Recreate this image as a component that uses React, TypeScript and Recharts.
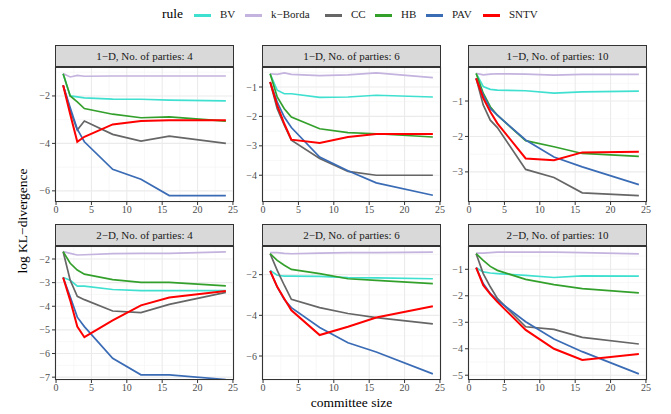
import React from 'react';
import { LineChart, Line, XAxis, YAxis, CartesianGrid } from 'recharts';

const committeeSizes = [1, 2, 3, 4, 8, 12, 16, 24];
const rules = ['BV', 'k-Borda', 'CC', 'HB', 'PAV', 'SNTV'];
const ruleLabels = ['BV', 'k−Borda', 'CC', 'HB', 'PAV', 'SNTV'];
const ruleColors = ['#40E0D0', '#C3B3DE', '#666666', '#34A02C', '#3A6BB5', '#FF0000'];

// log KL-divergence, one array per rule, indexed like committeeSizes
const oneD4 = {
  BV: [-1.06, -2.0, -2.04, -2.08, -2.13, -2.14, -2.18, -2.21],
  'k-Borda': [-1.06, -1.2, -1.13, -1.17, -1.16, -1.16, -1.16, -1.16],
  CC: [-1.55, -2.6, -3.44, -3.06, -3.62, -3.9, -3.69, -4.0],
  HB: [-1.06, -2.0, -2.25, -2.53, -2.77, -2.92, -2.88, -3.06],
  PAV: [-1.55, -2.5, -3.4, -3.93, -5.09, -5.51, -6.2, -6.2],
  SNTV: [-1.55, -2.77, -3.93, -3.72, -3.2, -3.06, -3.02, -3.02],
};
const oneD6 = {
  BV: [-0.55, -1.11, -1.23, -1.23, -1.35, -1.34, -1.28, -1.34],
  'k-Borda': [-0.55, -0.57, -0.52, -0.57, -0.61, -0.59, -0.52, -0.68],
  CC: [-0.83, -1.74, -2.3, -2.81, -3.43, -3.87, -4.0, -4.0],
  HB: [-0.55, -1.34, -1.74, -2.02, -2.42, -2.55, -2.59, -2.7],
  PAV: [-0.83, -1.51, -2.02, -2.38, -3.38, -3.85, -4.26, -4.68],
  SNTV: [-0.83, -1.62, -2.25, -2.79, -2.9, -2.7, -2.6, -2.6],
};
const oneD10 = {
  BV: [-0.22, -0.59, -0.67, -0.69, -0.71, -0.78, -0.74, -0.72],
  'k-Borda': [-0.22, -0.26, -0.24, -0.23, -0.24, -0.27, -0.25, -0.25],
  CC: [-0.36, -1.11, -1.54, -1.75, -2.93, -3.16, -3.59, -3.67],
  HB: [-0.22, -0.78, -1.16, -1.4, -2.12, -2.29, -2.48, -2.56],
  PAV: [-0.36, -0.83, -1.21, -1.4, -2.1, -2.58, -2.86, -3.36],
  SNTV: [-0.36, -0.92, -1.3, -1.63, -2.62, -2.67, -2.45, -2.43],
};
const twoD4 = {
  BV: [-2.78, -2.9, -3.15, -3.15, -3.29, -3.34, -3.34, -3.34],
  'k-Borda': [-1.69, -1.76, -1.83, -1.82, -1.77, -1.76, -1.76, -1.7],
  CC: [-1.69, -2.9, -3.58, -3.72, -4.2, -4.27, -3.92, -3.41],
  HB: [-1.69, -2.18, -2.47, -2.64, -2.87, -2.99, -2.99, -3.14],
  PAV: [-2.78, -3.6, -4.46, -4.86, -6.2, -6.9, -6.9, -7.1],
  SNTV: [-2.78, -3.75, -4.86, -5.31, -4.6, -3.96, -3.63, -3.35],
};
const twoD6 = {
  BV: [-1.79, -2.03, -2.07, -2.07, -2.08, -2.15, -2.16, -2.2],
  'k-Borda': [-0.92, -0.92, -0.95, -0.97, -0.94, -0.92, -0.92, -0.89],
  CC: [-0.97, -1.79, -2.52, -3.21, -3.62, -3.91, -4.11, -4.42],
  HB: [-0.97, -1.3, -1.54, -1.74, -1.95, -2.2, -2.28, -2.44],
  PAV: [-1.82, -2.6, -3.22, -3.62, -4.6, -5.35, -5.8, -6.88],
  SNTV: [-1.82, -2.6, -3.18, -3.75, -4.97, -4.56, -4.11, -3.55],
};
const twoD10 = {
  BV: [-0.94, -1.1, -1.14, -1.16, -1.23, -1.31, -1.25, -1.26],
  'k-Borda': [-0.39, -0.39, -0.37, -0.35, -0.35, -0.35, -0.37, -0.42],
  CC: [-0.41, -1.16, -1.66, -2.1, -3.17, -3.27, -3.57, -3.82],
  HB: [-0.41, -0.66, -0.89, -1.04, -1.38, -1.58, -1.73, -1.89],
  PAV: [-0.94, -1.54, -1.91, -2.17, -2.98, -3.63, -4.11, -4.95],
  SNTV: [-0.94, -1.6, -1.94, -2.23, -3.29, -4.0, -4.42, -4.2],
};

const xDomain = [-0.15, 25.15];
const xTicks = [0, 5, 10, 15, 20, 25];
const xMinor = [2.5, 7.5, 12.5, 17.5, 22.5];

const panels = [
  { title: '1−D, No. of parties: 4', series: oneD4, domain: [-6.47, -0.78], ticks: [-6, -4, -2], minor: [-5, -3, -1], col: 0, row: 0 },
  { title: '1−D, No. of parties: 6', series: oneD6, domain: [-4.91, -0.32], ticks: [-4, -3, -2, -1], minor: [-4.5, -3.5, -2.5, -1.5, -0.5], col: 1, row: 0 },
  { title: '1−D, No. of parties: 10', series: oneD10, domain: [-3.85, -0.04], ticks: [-3, -2, -1], minor: [-3.5, -2.5, -1.5, -0.5], col: 2, row: 0 },
  { title: '2−D, No. of parties: 4', series: twoD4, domain: [-7.12, -1.45], ticks: [-7, -6, -5, -4, -3, -2], minor: [-6.5, -5.5, -4.5, -3.5, -2.5, -1.5], col: 0, row: 1 },
  { title: '2−D, No. of parties: 6', series: twoD6, domain: [-7.18, -0.59], ticks: [-6, -4, -2], minor: [-7, -5, -3, -1], col: 1, row: 1 },
  { title: '2−D, No. of parties: 10', series: twoD10, domain: [-5.18, -0.12], ticks: [-5, -4, -3, -2, -1], minor: [-4.5, -3.5, -2.5, -1.5, -0.5], col: 2, row: 1 },
];

const colLeft = [55, 262, 468];
const rowTop = [67, 246];
const rowHeight = [135, 134];
const panelW = 179;
const stripH = 22;
const axisW = 28;
const rightPad = 10;
const font = '"Liberation Serif", "DejaVu Serif", serif';
const tickStyle = { fontSize: 10, fill: '#4D4D4D', fontFamily: font };

const fmt = (v: number) => String(v).replace('-', '−');

function Panel({ p }: { p: any }) {
  const left = colLeft[p.col];
  const top = rowTop[p.row];
  const h = rowHeight[p.row];
  const data = committeeSizes.map((k, i) => {
    const row: any = { k };
    rules.forEach((r) => (row[r] = p.series[r][i]));
    return row;
  });
  return (
    <>
      <div
        style={{
          position: 'absolute', left, top: top - stripH, width: panelW, height: stripH,
          background: '#D9D9D9', border: '1px solid #333', boxSizing: 'border-box',
          display: 'flex', alignItems: 'center', justifyContent: 'center',
          fontSize: 11, color: '#1A1A1A',
        }}
      >
        {p.title}
      </div>
      <div style={{ position: 'absolute', left: left - axisW, top }}>
        <LineChart
          width={panelW + axisW + rightPad} height={h + 20} data={data}
          margin={{ top: 0, right: rightPad, bottom: 0, left: 0 }}
        >
          <XAxis xAxisId="minor" type="number" dataKey="k" domain={xDomain} ticks={xMinor} hide allowDataOverflow />
          <YAxis yAxisId="minor" type="number" domain={p.domain} ticks={p.minor} hide allowDataOverflow />
          <CartesianGrid xAxisId="minor" yAxisId="minor" stroke="#F4F4F4" strokeWidth={0.6} />
          <CartesianGrid stroke="#EBEBEB" strokeWidth={1.1} />
          <XAxis
            type="number" dataKey="k" domain={xDomain} ticks={xTicks} allowDataOverflow height={20}
            axisLine={false} tickSize={3} tickLine={{ stroke: '#333' }} tickMargin={1}
            tick={tickStyle} tickFormatter={fmt} interval={0}
          />
          <YAxis
            type="number" domain={p.domain} ticks={p.ticks} allowDataOverflow width={axisW}
            axisLine={false} tickSize={3} tickLine={{ stroke: '#333' }} tickMargin={2}
            tick={tickStyle} tickFormatter={fmt} interval={0}
          />
          {rules.map((r, i) => (
            <Line
              key={r} type="linear" dataKey={r} stroke={ruleColors[i]}
              strokeWidth={r === 'SNTV' ? 2 : 1.7} dot={false} isAnimationActive={false}
            />
          ))}
        </LineChart>
      </div>
      <div
        style={{
          position: 'absolute', left, top, width: panelW, height: h,
          border: '1px solid #333', boxSizing: 'border-box', pointerEvents: 'none',
        }}
      />
    </>
  );
}

const legendKeyLeft = [194, 245, 325, 375, 426, 483];

export default function App() {
  return (
    <div style={{ position: 'absolute', left: 0, top: 0, width: 671, height: 414, background: '#fff', fontFamily: font }}>
      <div style={{ position: 'absolute', left: 162, top: 6, fontSize: 13.5, color: '#000' }}>rule</div>
      {rules.map((r, i) => (
        <React.Fragment key={r}>
          <div style={{ position: 'absolute', left: legendKeyLeft[i], top: 14, width: 17, height: 3, background: ruleColors[i] }} />
          <div style={{ position: 'absolute', left: legendKeyLeft[i] + 26, top: 8, fontSize: 11, color: '#1A1A1A' }}>{ruleLabels[i]}</div>
        </React.Fragment>
      ))}
      {panels.map((p) => (
        <Panel key={p.title} p={p} />
      ))}
      <div style={{ position: 'absolute', left: 262, top: 395, width: 179, textAlign: 'center', fontSize: 13.5, color: '#000' }}>
        committee size
      </div>
      <div
        style={{
          position: 'absolute', left: 23, top: 221, transform: 'translate(-50%, -50%) rotate(-90deg)',
          fontSize: 13.5, whiteSpace: 'nowrap', color: '#000',
        }}
      >
        log KL−divergence
      </div>
    </div>
  );
}
